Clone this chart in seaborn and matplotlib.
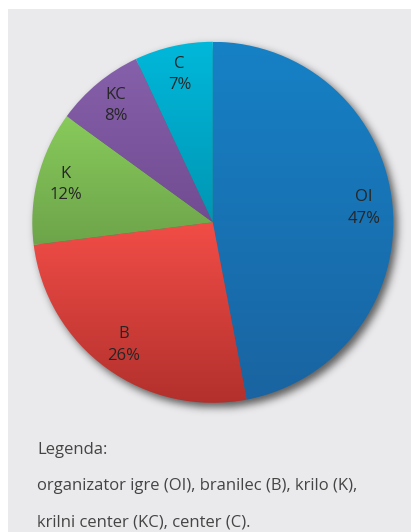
import numpy as np
import matplotlib
matplotlib.use("Agg")
import matplotlib.pyplot as plt
from matplotlib.patches import Rectangle
from matplotlib.colors import LinearSegmentedColormap
import seaborn as sns

# Player positions and their share
labels = ["OI", "B", "K", "KC", "C"]
shares = [47, 26, 12, 8, 7]
# top / bottom colour of each slice's vertical shading
top_colors = ["#1681c6", "#f24d47", "#88ca5b", "#8661ab", "#00b8da"]
bottom_colors = ["#1a64a1", "#b2302c", "#6da44a", "#714c92", "#0096b4"]

legend_lines = [
    "Legenda:",
    "organizator igre (OI), branilec (B), krilo (K),",
    "krilni center (KC), center (C).",
]

sns.set_theme(style="white")
plt.rcParams["font.family"] = ["Open Sans", "DejaVu Sans"]

W, H = 411, 532
fig = plt.figure(figsize=(W / 100, H / 100), dpi=100, facecolor="white")
ax = fig.add_axes([0, 0, 1, 1])

cx, cy, r = 212.8, H - 222.3, 180.5

# grey panel behind everything
ax.add_patch(Rectangle((8, 0), W - 8, H - 9, facecolor="#eaeaec",
                       edgecolor="none", zorder=0))

# soft drop shadow under the pie
pad = 30
n = int(2 * (r + pad))
yy, xx = np.mgrid[0:n, 0:n] + 0.5
off_x, off_y = 4.0, 4.5
dist = np.hypot(xx - (r + pad + off_x), yy - (r + pad + off_y))
disk = (dist <= r).astype(float)
sig = 4.0
k = np.arange(-15, 16)
g = np.exp(-k ** 2 / (2 * sig ** 2))
g /= g.sum()
blur = np.apply_along_axis(lambda v: np.convolve(v, g, mode="same"), 0, disk)
blur = np.apply_along_axis(lambda v: np.convolve(v, g, mode="same"), 1, blur)
shadow = np.zeros((n, n, 4))
shadow[..., 3] = 0.6 * blur
ax.imshow(shadow, extent=(cx - r - pad, cx + r + pad, cy - r - pad, cy + r + pad),
          origin="upper", zorder=1, interpolation="bilinear")

label_iter = iter(labels)
wedges, texts, autotexts = ax.pie(
    shares, startangle=90, counterclock=False, center=(cx, cy), radius=r,
    autopct=lambda p: f"{next(label_iter)}\n{p:.0f}%", pctdistance=0.84,
    wedgeprops=dict(edgecolor="none", linewidth=0),
    textprops=dict(fontsize=12, color="#262626", linespacing=1.45),
)

# vertical colour shading clipped to each slice
for w, c_top, c_bot in zip(wedges, top_colors, bottom_colors):
    w.set_facecolor("none")
    verts = w.get_path().vertices
    y0, y1 = verts[:, 1].min(), verts[:, 1].max()
    cmap = LinearSegmentedColormap.from_list("shade", [c_bot, c_top])
    grad = np.linspace(0, 1, 256).reshape(-1, 1)
    im = ax.imshow(grad, cmap=cmap, origin="lower", aspect="auto",
                   extent=(cx - r, cx + r, y0, y1), zorder=2,
                   interpolation="bilinear")
    im.set_clip_path(w)

for t in autotexts:
    t.set_zorder(5)

# legend text under the chart
for line, base in zip(legend_lines, [H - 453.5, H - 490.5, H - 526.5]):
    ax.text(37, base, line, fontsize=12, color="#444444", va="baseline",
            ha="left", zorder=5)

ax.set_xlim(0, W)
ax.set_ylim(0, H)
ax.set_aspect("auto")
ax.axis("off")

fig.savefig("out.png", dpi=100, facecolor="white")
